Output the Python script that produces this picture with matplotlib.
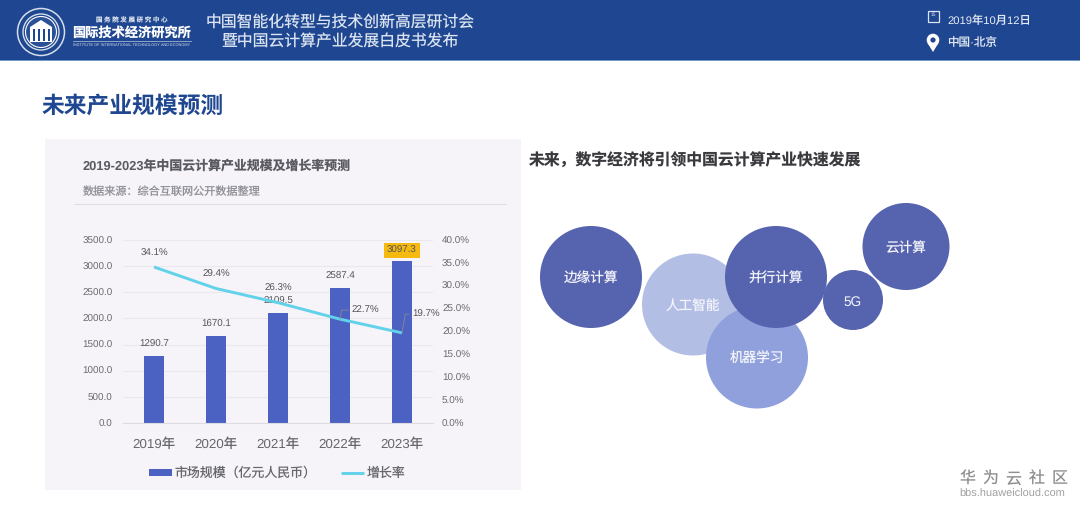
import matplotlib
matplotlib.use("Agg")
import matplotlib.pyplot as plt
from matplotlib.patches import Circle, Rectangle, Polygon

plt.rcParams['font.family'] = ['Liberation Sans', 'Noto Sans CJK SC', 'DejaVu Sans']
plt.rcParams['text.hinting'] = 'no_hinting'
plt.rcParams['text.kerning_factor'] = 6

# data
roky = ["2019年", "2020年", "2021年", "2022年", "2023年"]
trh = [1290.7, 1670.1, 2109.5, 2587.4, 3097.3]
rust = [34.1, 29.4, 26.3, 22.7, 19.7]
levy_ticks = [0, 500, 1000, 1500, 2000, 2500, 3000, 3500]
pravy_ticks = [0, 5, 10, 15, 20, 25, 30, 35, 40]

bubliny = ["边缘计算", "人工智能", "机器学习", "并行计算", "5G", "云计算"]
bubliny_x = [591, 693, 757, 776, 853, 906]
bubliny_y = [277, 304.5, 357.5, 277, 300, 246.5]
bubliny_r = [51, 51, 51, 51, 30, 43.5]
bubliny_barvy = ["#5663ae", "#b3bee5", "#8fa0dc", "#5663ae", "#5663ae", "#5663ae"]

MODRA = "#1f4690"

fig = plt.figure(figsize=(10.8, 5.08), dpi=100, facecolor="white")

# whole page in pixels, y goes down
page = fig.add_axes([0, 0, 1, 1])
page.set_xlim(0, 1080)
page.set_ylim(508, 0)
page.axis("off")

# header
page.add_patch(Rectangle((0, 0), 1080, 60, color=MODRA, lw=0))
page.add_patch(Rectangle((0, 60), 1080, 1.2, color="#6f9cc4", lw=0))

# logo
page.add_patch(Circle((41, 32), 23.5, fc="none", ec="#d5deec", lw=1.1))
page.add_patch(Circle((41, 32), 18, fc="none", ec="#d5deec", lw=1.0))
page.add_patch(Circle((41, 32), 15.5, fc="#2a5197", ec="white", lw=0.8))
page.add_patch(Polygon([(30, 27), (41, 20), (52, 27), (52, 42), (30, 42)], fc="white", lw=0))
for x0 in [33, 37.5, 43, 47.5]:
    page.add_patch(Rectangle((x0, 29), 2, 12, fc=MODRA, lw=0))
page.text(132, 20.5, "国 务 院 发 展 研 究 中 心", color="#d8e0ee", fontsize=4.6, ha="center", va="center")
page.text(132, 33, "国际技术经济研究所", color="white", fontsize=9.5, fontweight="bold", ha="center", va="center")
page.plot([73, 191], [41, 41], color="#b9c8e0", lw=0.5)
page.text(132, 45, "INSTITUTE OF INTERNATIONAL TECHNOLOGY AND ECONOMY", color="#d8e0ee", fontsize=2.8,
          ha="center", va="center")

page.text(340, 23.5, "中国智能化转型与技术创新高层研讨会", color="#dbe4f1", fontsize=11.4, ha="center", va="center")
page.text(340, 42.5, "暨中国云计算产业发展白皮书发布", color="#dbe4f1", fontsize=11.4, ha="center", va="center")

# date and place
page.add_patch(Rectangle((927.5, 10.5), 11, 11, fc="none", ec="#dbe4f1", lw=0.9))
page.text(933, 14.5, "15", color="#dbe4f1", fontsize=3.5, ha="center", va="center")
page.text(947, 20.5, "2019年10月12日", color="#e6ecf5", fontsize=8.1, ha="left", va="center")
page.add_patch(Polygon([(927.5, 43), (938.5, 43), (933, 52)], fc="white", lw=0))
page.add_patch(Circle((933, 40), 6.3, fc="white", lw=0))
page.add_patch(Circle((933, 40), 2.6, fc=MODRA, lw=0))
page.text(947, 42.5, "中国·北京", color="#e6ecf5", fontsize=8.3, ha="left", va="center")

page.text(42, 107, "未来产业规模预测", color=MODRA, fontsize=16.4, fontweight="bold", ha="left", va="center")

# grey panel behind the chart
page.add_patch(Rectangle((45, 139), 476, 351, fc="#f6f4f8", lw=0))
page.text(83, 165.5, "2019-2023年中国云计算产业规模及增长率预测", color="#5a5a62", fontsize=9.3, fontweight="bold",
          ha="left", va="center")
page.text(83, 192, "数据来源：综合互联网公开数据整理", color="#909098", fontsize=8, ha="left", va="center")
page.plot([74, 506], [204, 204], color="#dfdfe6", lw=0.8)

page.text(529, 161, "未来，数字经济将引领中国云计算产业快速发展", color="#3a3a3e", fontsize=11.4, fontweight="bold",
          ha="left", va="center")

# bubbles
for nazev, bx, by, br, barva in zip(bubliny, bubliny_x, bubliny_y, bubliny_r, bubliny_barvy):
    page.add_patch(Circle((bx, by), br, fc=barva, lw=0))
    page.text(bx, by + 2, nazev, color="#f4f5fb", fontsize=9.8, ha="center", va="center")

# watermark
for i, znak in enumerate("华为云社区"):
    page.text(967 + i * 23.1, 479, znak, color="#8e8e8e", fontsize=11.5, ha="center", va="center")
page.text(1012.5, 494.5, "bbs.huaweicloud.com", color="#a0a0a0", fontsize=7.9, ha="center", va="center")

# chart
ax = fig.add_axes([123 / 1080, 1 - 423 / 508, 310 / 1080, 183 / 508])
ax.patch.set_alpha(0)
bary = ax.bar(roky, trh, width=0.315, color="#4c62c2", label="市场规模（亿元人民币）", zorder=2)
ax.set_xlim(-0.5, 4.5)
ax.set_ylim(0, 3500)
ax.set_yticks(levy_ticks)
ax.set_yticklabels([f"{v:.1f}" for v in levy_ticks], fontsize=7.1, color="#6a6a70")
ax.tick_params(axis="y", length=0, pad=7.5)
ax.tick_params(axis="x", length=0, pad=11, labelsize=9.6, labelcolor="#66666c")
ax.grid(axis="y", color="#e8e8ee", lw=0.8, zorder=0)
for s in ["top", "left", "right"]:
    ax.spines[s].set_visible(False)
ax.spines["bottom"].set_color("#dcdce2")

for i, v in enumerate(trh):
    if i == 4:
        ax.annotate(f"{v:.1f}", (i, v), xytext=(0, 7.5), textcoords="offset points", ha="center", va="center",
                    fontsize=7, color="#55555a", zorder=5,
                    bbox=dict(boxstyle="square,pad=0.3", fc="#f5b90f", ec="none"))
    else:
        ax.annotate(f"{v:.1f}", (i, v), xytext=(0, 8), textcoords="offset points", ha="center", va="center",
                    fontsize=7, color="#55555a", zorder=5)

ax2 = ax.twinx()
ax2.patch.set_alpha(0)
cara, = ax2.plot(roky, rust, color="#62d2ea", lw=2.1, label="增长率", zorder=3, solid_capstyle="butt")
ax2.set_ylim(0, 40)
ax2.set_yticks(pravy_ticks)
ax2.set_yticklabels([f"{v:.1f}%" for v in pravy_ticks], fontsize=7.1, color="#6a6a70")
ax2.tick_params(axis="y", length=0, pad=6.5)
for s in ax2.spines.values():
    s.set_visible(False)

# growth labels; the last two have leader lines
for i, v in enumerate(rust[:3]):
    ax2.annotate(f"{v:.1f}%", (i, v), xytext=(0, 10), textcoords="offset points", ha="center", va="center",
                 fontsize=7, color="#55555a", zorder=5)
for i, dx, dy in [(3, 18, 6.5), (4, 17, 13.5)]:
    ax2.annotate(f"{rust[i]:.1f}%", (i, rust[i]), xytext=(dx, dy), textcoords="offset points", ha="center",
                 va="center", fontsize=7, color="#55555a", zorder=5,
                 arrowprops=dict(arrowstyle="-", color="#8a8a90", lw=0.6, shrinkA=0, shrinkB=0, relpos=(0, 0.5),
                                 connectionstyle="angle,angleA=0,angleB=80,rad=0"))

fig.legend(handles=[bary, cara], loc="center", bbox_to_anchor=(277 / 1080, 1 - 473.5 / 508), ncol=2, frameon=False,
           fontsize=9.3, labelcolor="#66666c", handlelength=1.8, handleheight=0.45, handletextpad=0.2,
           columnspacing=1.9, borderpad=0)

fig.savefig("out.png", dpi=100)
